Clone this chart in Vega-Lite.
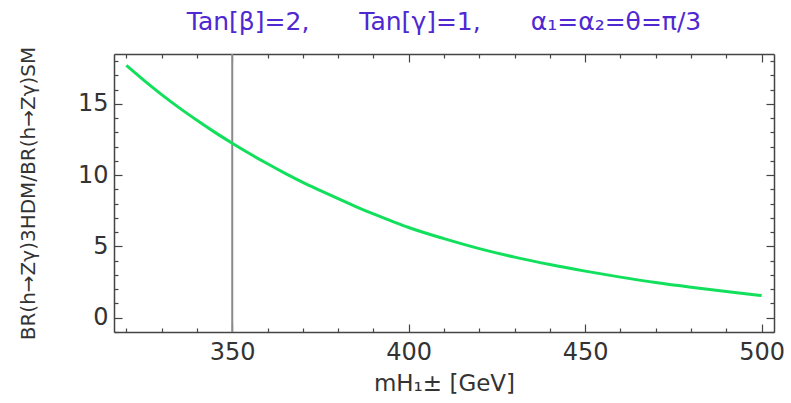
{
  "$schema": "https://vega.github.io/schema/vega-lite/v6.json",
  "autosize": {"type": "none"},
  "padding": {"left": 114, "top": 54, "right": 17, "bottom": 71},
  "width": 660,
  "height": 278,
  "background": "white",
  "view": {"stroke": null},
  "title": {
    "text": "Tan[β]=2,\u2003\u2003Tan[γ]=1,\u2003\u2003α₁=α₂=θ=π/3",
    "font": "DejaVu Sans",
    "fontSize": 25,
    "fontWeight": "normal",
    "color": "#5028d2",
    "anchor": "middle",
    "baseline": "bottom",
    "offset": -14
  },
  "datasets": {
    "curve": [
      {"m": 320, "r": 17.7}, {"m": 325, "r": 16.65}, {"m": 330, "r": 15.65}, {"m": 335, "r": 14.72},
      {"m": 340, "r": 13.85}, {"m": 345, "r": 13.02}, {"m": 350, "r": 12.24}, {"m": 355, "r": 11.5},
      {"m": 360, "r": 10.8}, {"m": 365, "r": 10.13}, {"m": 370, "r": 9.5}, {"m": 375, "r": 8.92},
      {"m": 380, "r": 8.35}, {"m": 385, "r": 7.8}, {"m": 390, "r": 7.28}, {"m": 395, "r": 6.8},
      {"m": 400, "r": 6.33}, {"m": 410, "r": 5.55}, {"m": 420, "r": 4.85}, {"m": 430, "r": 4.25},
      {"m": 440, "r": 3.73}, {"m": 450, "r": 3.27}, {"m": 460, "r": 2.85}, {"m": 470, "r": 2.47},
      {"m": 480, "r": 2.14}, {"m": 490, "r": 1.84}, {"m": 500, "r": 1.56}
    ],
    "marker": [{"m": 350}]
  },
  "config": {
    "axis": {
      "grid": false,
      "domainColor": "#444",
      "domainWidth": 1.5,
      "tickColor": "#444",
      "tickWidth": 1.2,
      "labelFont": "DejaVu Sans",
      "labelFontSize": 24,
      "labelColor": "#333",
      "titleFont": "DejaVu Sans",
      "titleFontWeight": "normal",
      "titleColor": "#333",
      "labelOverlap": false,
      "labelFlush": false
    }
  },
  "resolve": {"axis": {"x": "independent", "y": "independent"}},
  "layer": [
    {
      "data": {"name": "marker"},
      "mark": {"type": "rule", "color": "#8a8a8a", "strokeWidth": 2},
      "encoding": {
        "x": {
          "field": "m", "type": "quantitative",
          "scale": {"domain": [316.5, 503.5], "nice": false, "zero": false},
          "axis": {
            "orient": "bottom",
            "values": [320, 330, 340, 350, 360, 370, 380, 390, 400, 410, 420, 430, 440, 450, 460, 470, 480, 490, 500],
            "tickSize": {"condition": {"test": "datum.value % 50 === 0", "value": -8}, "value": -4},
            "labelExpr": "datum.value % 50 === 0 ? datum.label : ''",
            "labelPadding": 16,
            "title": "mH₁± [GeV]",
            "titleFontSize": 23,
            "titleX": 330,
            "titleY": 58,
            "titleAlign": "center",
            "titleBaseline": "alphabetic"
          }
        }
      }
    },
    {
      "data": {"name": "curve"},
      "mark": {"type": "line", "color": "#12e05c", "strokeWidth": 3, "interpolate": "monotone"},
      "encoding": {
        "x": {
          "field": "m", "type": "quantitative",
          "scale": {"domain": [316.5, 503.5], "nice": false, "zero": false},
          "axis": {
            "orient": "top",
            "values": [320, 330, 340, 350, 360, 370, 380, 390, 400, 410, 420, 430, 440, 450, 460, 470, 480, 490, 500],
            "tickSize": {"condition": {"test": "datum.value % 50 === 0", "value": -8}, "value": -4},
            "labels": false,
            "title": null
          }
        },
        "y": {
          "field": "r", "type": "quantitative",
          "scale": {"domain": [-1, 18.5], "nice": false, "zero": false},
          "axis": {
            "orient": "left",
            "values": [-1, 0, 1, 2, 3, 4, 5, 6, 7, 8, 9, 10, 11, 12, 13, 14, 15, 16, 17, 18],
            "tickSize": {"condition": {"test": "datum.value % 5 === 0", "value": -8}, "value": -4},
            "labelExpr": "datum.value % 5 === 0 ? datum.label : ''",
            "labelPadding": 14,
            "title": "BR(h→Zγ)3HDM/BR(h→Zγ)SM",
            "titleFontSize": 20,
            "titleX": -86,
            "titleY": 139,
            "titleAngle": -90,
            "titleAlign": "center",
            "titleBaseline": "middle"
          }
        }
      }
    },
    {
      "data": {"name": "curve"},
      "mark": {"type": "line", "opacity": 0},
      "encoding": {
        "x": {"field": "m", "type": "quantitative", "scale": {"domain": [316.5, 503.5], "nice": false, "zero": false}, "axis": null},
        "y": {
          "field": "r", "type": "quantitative",
          "scale": {"domain": [-1, 18.5], "nice": false, "zero": false},
          "axis": {
            "orient": "right",
            "values": [-1, 0, 1, 2, 3, 4, 5, 6, 7, 8, 9, 10, 11, 12, 13, 14, 15, 16, 17, 18],
            "tickSize": {"condition": {"test": "datum.value % 5 === 0", "value": -8}, "value": -4},
            "labels": false,
            "title": null
          }
        }
      }
    }
  ]
}
